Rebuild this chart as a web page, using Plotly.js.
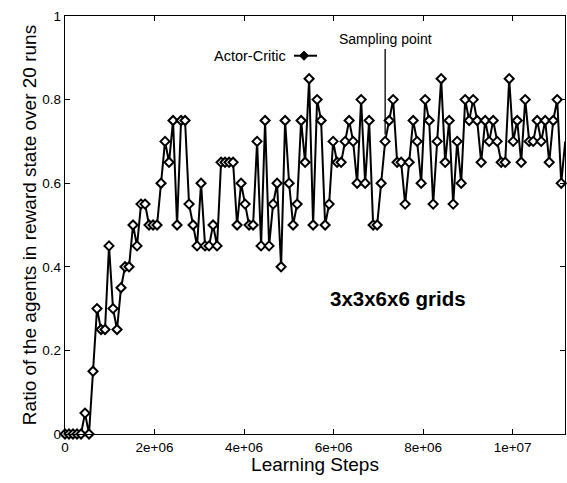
<!DOCTYPE html>
<html>
<head>
<meta charset="utf-8">
<script src="https://cdn.plot.ly/plotly-3.0.1.min.js"></script>
<style>html,body{margin:0;padding:0;background:#fff;}#chart{width:567px;height:483px;}</style>
</head>
<body>
<div id="chart"></div>
<script>
// Learning steps at each sampling point
const learningSteps = [
  0, 89400, 178800, 268200, 357600, 447000, 536400, 625800, 715200, 804600,
  894000, 983400, 1072800, 1162200, 1251600, 1341000, 1430400, 1519800, 1609200, 1698600,
  1788000, 1877400, 1966800, 2056200, 2145600, 2235000, 2324400, 2413800, 2503200, 2592600,
  2682000, 2771400, 2860800, 2950200, 3039600, 3129000, 3218400, 3307800, 3397200, 3486600,
  3576000, 3665400, 3754800, 3844200, 3933600, 4023000, 4112400, 4201800, 4291200, 4380600,
  4470000, 4559400, 4648800, 4738200, 4827600, 4917000, 5006400, 5095800, 5185200, 5274600,
  5364000, 5453400, 5542800, 5632200, 5721600, 5811000, 5900400, 5989800, 6079200, 6168600,
  6258000, 6347400, 6436800, 6526200, 6615600, 6705000, 6794400, 6883800, 6973200, 7062600,
  7152000, 7241400, 7330800, 7420200, 7509600, 7599000, 7688400, 7777800, 7867200, 7956600,
  8046000, 8135400, 8224800, 8314200, 8403600, 8493000, 8582400, 8671800, 8761200, 8850600,
  8940000, 9029400, 9118800, 9208200, 9297600, 9387000, 9476400, 9565800, 9655200, 9744600,
  9834000, 9923400, 10012800, 10102200, 10191600, 10281000, 10370400, 10459800, 10549200, 10638600,
  10728000, 10817400, 10906800, 10996200, 11085600, 11175000
];
// Actor-Critic: ratio of agents in reward state over 20 runs
const actorCritic = [
  0, 0, 0, 0, 0, 0.05, 0, 0.15, 0.3, 0.25,
  0.25, 0.45, 0.3, 0.25, 0.35, 0.4, 0.4, 0.5, 0.45, 0.55,
  0.55, 0.5, 0.5, 0.5, 0.6, 0.7, 0.65, 0.75, 0.5, 0.75,
  0.75, 0.55, 0.5, 0.45, 0.6, 0.45, 0.45, 0.5, 0.45, 0.65,
  0.65, 0.65, 0.65, 0.5, 0.6, 0.55, 0.5, 0.5, 0.7, 0.45,
  0.75, 0.45, 0.55, 0.6, 0.4, 0.75, 0.6, 0.5, 0.55, 0.75,
  0.65, 0.85, 0.5, 0.8, 0.75, 0.5, 0.55, 0.7, 0.65, 0.65,
  0.7, 0.75, 0.7, 0.6, 0.8, 0.6, 0.75, 0.5, 0.5, 0.6,
  0.7, 0.75, 0.8, 0.65, 0.65, 0.55, 0.65, 0.75, 0.7, 0.6,
  0.8, 0.75, 0.55, 0.7, 0.85, 0.65, 0.75, 0.55, 0.7, 0.6,
  0.8, 0.75, 0.8, 0.75, 0.65, 0.75, 0.7, 0.75, 0.7, 0.65,
  0.65, 0.85, 0.7, 0.75, 0.65, 0.8, 0.7, 0.7, 0.75, 0.7,
  0.75, 0.65, 0.75, 0.8, 0.6, 0.7
];
const xTickVals = [0, 2e6, 4e6, 6e6, 8e6, 1e7];
const xTickText = ["0", "2e+06", "4e+06", "6e+06", "8e+06", "1e+07"];
const yTickVals = [0, 0.2, 0.4, 0.6, 0.8, 1];
const yTickText = ["0", "0.2", "0.4", "0.6", "0.8", "1"];
const samplingIndex = 80;

const FONT = "Liberation Sans, Arial, Helvetica, sans-serif";

const trace = {
  x: learningSteps,
  y: actorCritic,
  type: "scatter",
  mode: "lines+markers",
  name: "Actor-Critic",
  line: {color: "#000", width: 2},
  marker: {symbol: "diamond", size: 7, color: "#fff", line: {color: "#000", width: 2}},
  cliponaxis: false,
  showlegend: false
};

// legend-like key (text left, sample right) in paper coordinates
const lx0 = 0.458, lx1 = 0.504, lxc = 0.478, ly = 0.905;
const dx = 0.009, dy = 0.011;

const layout = {
  width: 567, height: 483,
  margin: {l: 65, r: 2, t: 16, b: 49},
  paper_bgcolor: "#fff", plot_bgcolor: "#fff",
  font: {family: FONT, color: "#000", size: 13.5},
  xaxis: {
    range: [0, 11170000],
    tickvals: xTickVals, ticktext: xTickText,
    ticks: "inside", ticklen: 5, tickcolor: "#000", tickwidth: 1,
    showline: true, linecolor: "#000", linewidth: 1.3, mirror: "ticks",
    showgrid: false, zeroline: false,
    tickfont: {family: FONT, size: 13.5},
    title: {text: "Learning Steps", font: {family: FONT, size: 19}, standoff: 0}
  },
  yaxis: {
    range: [0, 1],
    tickvals: yTickVals, ticktext: yTickText,
    ticks: "inside", ticklen: 5, tickcolor: "#000", tickwidth: 1,
    showline: true, linecolor: "#000", linewidth: 1.3, mirror: "ticks",
    showgrid: false, zeroline: false,
    tickfont: {family: FONT, size: 13.5},
    title: {text: "Ratio of the agents in reward state over 20 runs", font: {family: FONT, size: 19}, standoff: 0}
  },
  annotations: [
    {
      xref: "paper", yref: "paper", x: 0.446, y: ly, xanchor: "right", yanchor: "middle",
      text: "Actor-Critic", showarrow: false, font: {family: FONT, size: 14.5}
    },
    {
      x: 7440000, y: 0.323, xref: "x", yref: "y",
      text: "<b>3x3x6x6 grids</b>", showarrow: false,
      font: {family: FONT, size: 20.5}
    },
    {
      x: learningSteps[samplingIndex], y: actorCritic[samplingIndex], xref: "x", yref: "y",
      text: "Sampling point", showarrow: true, arrowhead: 0, arrowwidth: 1.3, arrowcolor: "#000",
      ax: 0, ay: -102, standoff: 7,
      font: {family: FONT, size: 14}
    }
  ],
  shapes: [
    {type: "line", xref: "paper", yref: "paper", x0: lx0, x1: lx1, y0: ly, y1: ly, line: {color: "#000", width: 2}},
    {type: "path", xref: "paper", yref: "paper",
     path: "M " + (lxc - dx) + " " + ly + " L " + lxc + " " + (ly + dy) + " L " + (lxc + dx) + " " + ly + " L " + lxc + " " + (ly - dy) + " Z",
     fillcolor: "#000", line: {color: "#000", width: 1}}
  ]
};

Plotly.newPlot("chart", [trace], layout, {displayModeBar: false, staticPlot: true});
</script>
</body>
</html>
